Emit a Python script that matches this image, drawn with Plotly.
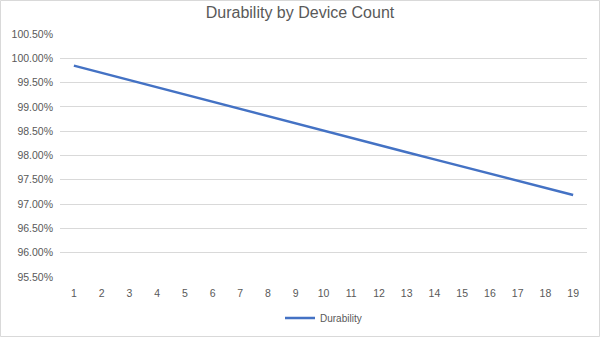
import plotly.graph_objects as go

device_count = list(range(1, 20))
durability = [0.998500, 0.997002, 0.995507, 0.994014, 0.992523, 0.991034, 0.989547,
              0.988063, 0.986580, 0.985101, 0.983623, 0.982148, 0.980674, 0.979203,
              0.977734, 0.976268, 0.974803, 0.973341, 0.971881]
series_name = "Durability"
title_text = "Durability by Device Count"

W, H = 600, 337
ml, mr, mt, mb = 60, 13, 34, 60

fig = go.Figure()
fig.add_trace(go.Scatter(x=device_count, y=durability, mode="lines", name=series_name,
                         line=dict(color="#4472C4", width=2.5)))

font_fam = "Liberation Sans, Arial, sans-serif"
fig.update_layout(
    width=W, height=H,
    margin=dict(l=ml, r=mr, t=mt, b=mb, autoexpand=False),
    paper_bgcolor="white", plot_bgcolor="white",
    title=dict(text=title_text, x=0.5, xanchor="center", y=1 - 12 / H, yanchor="middle",
               font=dict(family=font_fam, size=16, color="#595959")),
    font=dict(family=font_fam, size=10.5, color="#595959"),
    showlegend=True,
    legend=dict(orientation="h", x=0.5, xanchor="center", y=-(318 - 277) / (H - mt - mb),
                yanchor="middle", font=dict(size=10, color="#595959")),
    xaxis=dict(range=[0.5, 19.5], tickmode="array", tickvals=device_count,
               ticktext=[str(v) for v in device_count], showgrid=False,
               showline=False, zeroline=False, ticks="", ticklabelstandoff=8,
               automargin=False),
    yaxis=dict(range=[0.955, 1.005], dtick=0.005, tick0=0.955, tickformat=".2%",
               showgrid=True, gridcolor="#D9D9D9", gridwidth=1, zeroline=False,
               showline=False, ticks="", ticklabelstandoff=6, automargin=False),
)
# chart-area border
fig.add_shape(type="rect", xref="paper", yref="paper",
              x0=-(ml - 0.5) / (W - ml - mr), x1=1 + (mr - 0.5) / (W - ml - mr),
              y0=-(mb - 0.5) / (H - mt - mb), y1=1 + (mt - 0.5) / (H - mt - mb),
              line=dict(color="#D9D9D9", width=1), layer="below")
fig.write_html("out.html")
